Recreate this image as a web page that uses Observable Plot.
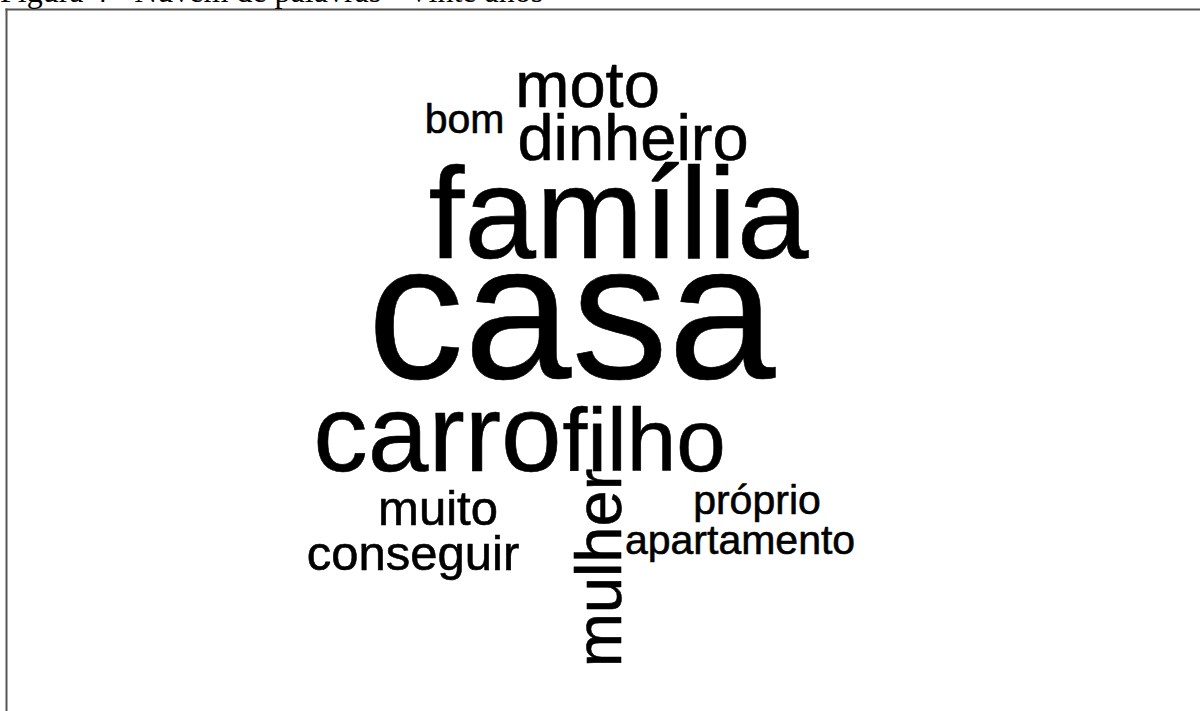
<!DOCTYPE html>
<html><head><meta charset="utf-8">
<script src="https://cdn.jsdelivr.net/npm/d3@7"></script>
<script src="https://cdn.jsdelivr.net/npm/@observablehq/plot@0.6"></script>
<style>
html,body{margin:0;padding:0;background:#fff;overflow:hidden;}
#wrap{position:relative;width:1200px;height:711px;overflow:hidden;}
#caption{position:absolute;left:0;top:-25px;font-family:"Liberation Serif","Times New Roman",serif;font-size:32px;line-height:32px;color:#000;white-space:nowrap;}
</style></head><body>
<div id="wrap"><div id="chart"></div><div id="caption">Figura 4 - Nuvem de palavras - Vinte anos</div></div>
<script>
// Words and their frequencies (estimated from the relative type sizes)
const words = ["casa", "família", "carro", "filho", "mulher", "moto", "dinheiro", "muito", "conseguir", "próprio", "apartamento", "bom"];
const freqs = [45, 29, 24, 19, 13, 13, 13, 9, 9, 7, 7, 7];
// Word-cloud layout (fraction of the figure width / height; y = baseline)
const layoutX = [0.4758, 0.5150, 0.3642, 0.5363, 0.5167, 0.4892, 0.5271, 0.3646, 0.3438, 0.6304, 0.6163, 0.3867];
const layoutY = [0.5316, 0.3615, 0.6624, 0.6624, 0.7982, 0.1491, 0.2250, 0.7370, 0.8003, 0.7229, 0.7778, 0.1857];
const vertical = [false, false, false, false, true, false, false, false, false, false, false, false];

const data = words.map((w, i) => ({word: w, freq: freqs[i], lx: layoutX[i], ly: layoutY[i], rot: vertical[i] ? -90 : 0}));
const size = d3.scaleLinear().domain(d3.extent(freqs)).range([41, 193]);

const chart = Plot.plot({
  width: 1200,
  height: 711,
  marginTop: 9,
  marginLeft: 6,
  marginRight: 0,
  marginBottom: 0,
  x: {domain: [0, 1], range: [0, 1200], axis: null},
  y: {domain: [0, 1], range: [0, 711], axis: null},
  style: {background: "#fff", fontFamily: "'Liberation Sans', Arial, sans-serif"},
  marks: [
    Plot.frame({anchor: "left", stroke: "#555", strokeWidth: 2}),
    Plot.frame({anchor: "top", stroke: "#555", strokeWidth: 2}),
    Plot.text(data, {
      x: "lx", y: "ly", text: "word",
      fontSize: d => size(d.freq),
      rotate: "rot",
      textAnchor: "middle",
      lineAnchor: "bottom",
      fill: "#000",
      stroke: "#000",
      strokeWidth: 0.6,
      fontFamily: "'Liberation Sans', Arial, sans-serif"
    })
  ]
});
document.getElementById("chart").appendChild(chart);
</script>
</body></html>
